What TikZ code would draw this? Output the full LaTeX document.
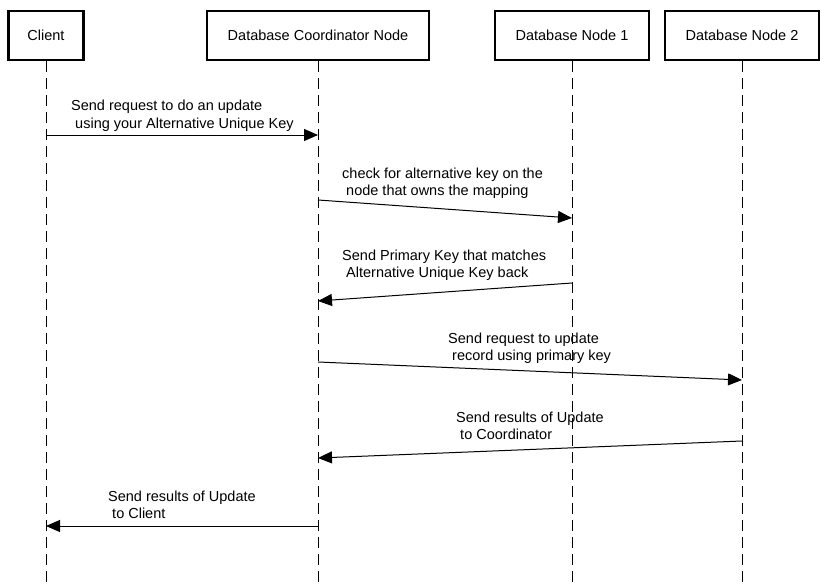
\documentclass[tikz,border=0pt]{standalone}
\usepackage{fontspec}
\setmainfont{Liberation Sans}
\usetikzlibrary{arrows.meta}
\tikzset{
    actor/.style={draw, line width=2.7pt, minimum height=49pt, inner sep=0pt},
    lifeline/.style={line width=1pt, dash pattern=on 11pt off 6pt},
    msg/.style={line width=1pt, -{Triangle[length=14pt,width=12pt]}},
    msglabel/.style={anchor=base west, align=left, inner sep=0pt},
}
\begin{document}
\begin{tikzpicture}[x=1pt, y=-1pt, font=\fontsize{14.5}{17.5}\selectfont]
    \useasboundingbox (0,0) rectangle (827,586);
    % participants
    \node[actor, minimum width=75pt] (client) at (46,35.5) {Client};
    \node[actor, minimum width=222pt] (coord) at (318,35.5) {Database Coordinator Node};
    \node[actor, minimum width=154pt] (dbnode1) at (572,35.5) {Database Node 1};
    \node[actor, minimum width=154pt] (dbnode2) at (742,35.5) {Database Node 2};
    % lifelines
    \foreach \n in {client,coord,dbnode1,dbnode2}
        \draw[lifeline] (\n.south) -- (\n.south |- 0,586);
    % message end points
    \coordinate (req-a) at (client |- 0,135);
    \coordinate (req-b) at (coord |- 0,135);
    \coordinate (chk-a) at (coord |- 0,200);
    \coordinate (chk-b) at (dbnode1 |- 0,218);
    \coordinate (pk-a) at (dbnode1 |- 0,283);
    \coordinate (pk-b) at (coord |- 0,301);
    \coordinate (upd-a) at (coord |- 0,362);
    \coordinate (upd-b) at (dbnode2 |- 0,380);
    \coordinate (res-a) at (dbnode2 |- 0,441);
    \coordinate (res-b) at (coord |- 0,458);
    \coordinate (ret-a) at (coord |- 0,526);
    \coordinate (ret-b) at (client |- 0,526);
    % messages
    \draw[msg] (req-a) -- (req-b);
    \draw[msg] (chk-a) -- (chk-b);
    \draw[msg] (pk-a) -- (pk-b);
    \draw[msg] (upd-a) -- (upd-b);
    \draw[msg] (res-a) -- (res-b);
    \draw[msg] (ret-a) -- (ret-b);
    % labels (base = last line)
    \node[msglabel] (req-txt) at (71,128) {Send request to do an update\\\ using your Alternative Unique Key};
    \node[msglabel] (chk-txt) at (342,195.5) {check for alternative key on the\\\ node that owns the mapping};
    \node[msglabel] (pk-txt) at (342,277.5) {Send Primary Key that matches\\\ Alternative Unique Key back};
    \node[msglabel] (upd-txt) at (448,360.5) {Send request to update\\\ record using primary key};
    \node[msglabel] (res-txt) at (456,439.5) {Send results of Update\\\ to Coordinator};
    \node[msglabel] (ret-txt) at (108,518.5) {Send results of Update\\\ to Client};
\end{tikzpicture}
\end{document}
